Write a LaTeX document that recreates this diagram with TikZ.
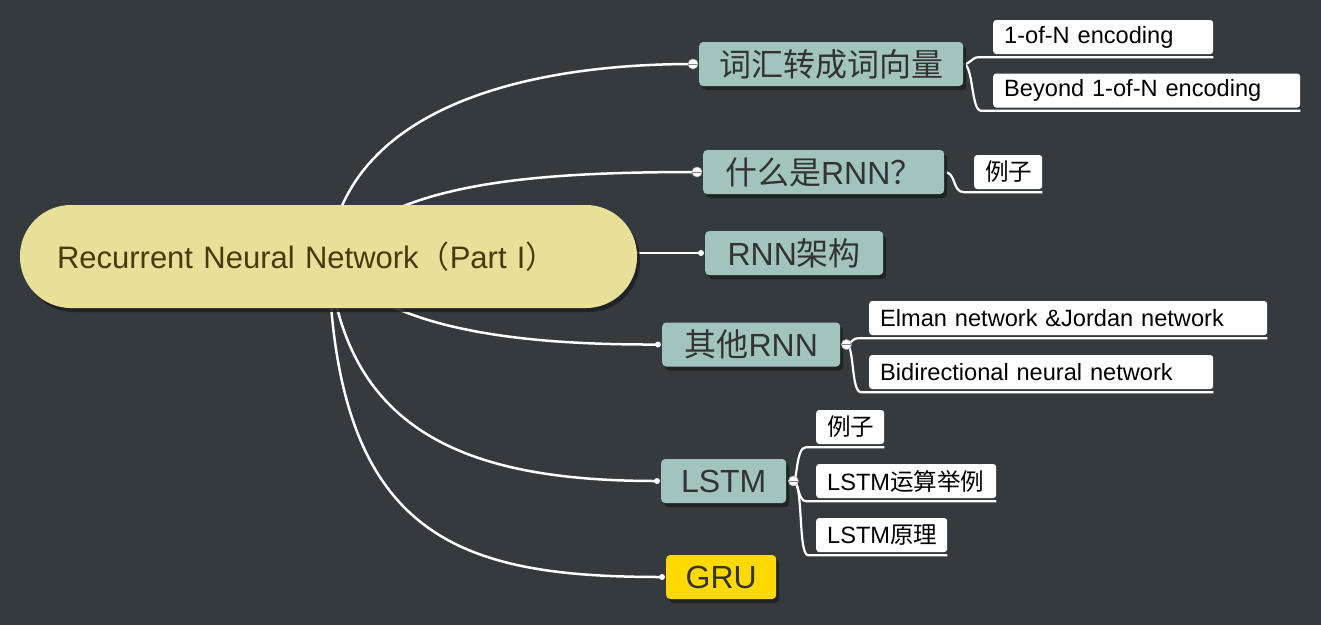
\documentclass[tikz,border=0pt]{standalone}
\usepackage{fontspec}
\setmainfont{Liberation Sans}
\newfontfamily\cjk{Noto Sans CJK SC}
\usetikzlibrary{calc,shadows,backgrounds}
\definecolor{bgc}{RGB}{53,58,62}
\definecolor{tealc}{RGB}{162,196,191}
\definecolor{rootc}{RGB}{232,223,153}
\definecolor{roottext}{RGB}{72,58,12}
\definecolor{gruc}{RGB}{255,217,0}
\definecolor{maintext}{RGB}{51,51,51}
\definecolor{shadowc}{RGB}{30,33,36}
\begin{document}
\begin{tikzpicture}[x=1pt,y=-1pt,
  edge/.style={draw=white,line width=2.5pt},
  subedge/.style={draw=white,line width=2.2pt},
  shad/.style={drop shadow={shadow xshift=3pt,shadow yshift=-4pt,fill=shadowc,opacity=0.9}},
  mainbox/.style={rectangle,rounded corners=4pt,fill=tealc,text=maintext,
    font=\fontsize{32}{38}\selectfont,minimum height=44pt,inner sep=0pt,anchor=west,shad},
  leaf/.style={rectangle,rounded corners=3pt,fill=white,text=black,
    font=\fontsize{23.6}{28}\selectfont,minimum height=34pt,inner ysep=0pt,inner xsep=11pt,
    anchor=west,text width=#1,align=left},
  collapse/.style={circle,fill=white,draw=gray!60,line width=0.6pt,minimum size=10pt,inner sep=0pt,
    path picture={\draw[gray,line width=1pt] (path picture bounding box.west) -- (path picture bounding box.east);}},
  dotc/.style={circle,fill=white,minimum size=6pt,inner sep=0pt}
]
\useasboundingbox (0,0) rectangle (1321,625);

% root
\node[rectangle,rounded corners=51pt,fill=rootc,text=roottext,minimum height=103pt,
  text width=543pt,inner xsep=37pt,align=left,font=\fontsize{31}{37}\selectfont,shad]
  (root) at (328.5,256.5) {Recurrent Neural Network{\cjk （}Part I{\cjk ）}};

% main nodes
\node[mainbox,minimum width=264pt] (n1) at (699,64) {\cjk 词汇转成词向量};
\node[mainbox,minimum width=241pt] (n2) at (703,172) {{\cjk 什么是}RNN{\cjk ？}};
\node[mainbox,minimum width=178pt] (n3) at (705,253) {RNN{\cjk 架构}};
\node[mainbox,minimum width=178pt] (n4) at (662,344.5) {{\cjk 其他}RNN};
\node[mainbox,minimum width=125pt] (n5) at (661,481) {LSTM};
\node[mainbox,minimum width=110pt,fill=gruc] (n6) at (666,577) {GRU};

% leaves
\node[leaf=198pt] (c11) at (993,37) {1-of-N encoding};
\node[leaf=285pt] (c12) at (993,90.5) {Beyond 1-of-N encoding};
\node[leaf=46pt] (c21) at (974,172) {\cjk 例子};
\node[leaf=376pt] (c41) at (869,318) {Elman network \&Jordan network};
\node[leaf=322pt] (c42) at (869,372) {Bidirectional neural network};
\node[leaf=46pt] (c51) at (816,427) {\cjk 例子};
\node[leaf=158pt] (c52) at (816,481) {LSTM{\cjk 运算举例}};
\node[leaf=109pt] (c53) at (816,535) {LSTM{\cjk 原理}};

% connection markers
\node[collapse] (k1) at ($(n1.west)+(-6,0)$) {};
\node[collapse] (k2) at ($(n2.west)+(-6,0)$) {};
\node[dotc] (k3) at ($(n3.west)+(-4,0)$) {};
\node[dotc] (k4) at ($(n4.west)+(-4,0)$) {};
\node[dotc] (k5) at ($(n5.west)+(-4,0)$) {};
\node[dotc] (k6) at ($(n6.west)+(-4,0)$) {};
\node[collapse] (r4) at ($(n4.east)+(6,0)$) {};
\node[collapse] (r5) at ($(n5.east)+(7,0)$) {};

\begin{scope}[on background layer]
  \fill[bgc] (0,0) rectangle (1321,625);
  \draw[edge] (root.center) .. controls (345,110) and (520,64) .. (k1.center);
  \draw[edge] (root.center) .. controls (390,185) and (520,172) .. (k2.center);
  \draw[edge] (k3.center -| root.east) -- (k3.center);
  \draw[edge] (root.center) .. controls (378,330) and (520,345) .. (k4.center);
  \draw[edge] (root.center) .. controls (345,440) and (480,481) .. (k5.center);
  \draw[edge] (root.center) .. controls (335,540) and (460,577) .. (k6.center);
  % sub connectors
  \draw[subedge] (n1.east) .. controls +(8,0) and +(-8,0) .. ($(c11.south west)+(-14,3)$) -- ($(c11.south east)+(0,3)$);
  \draw[subedge] (n1.east) .. controls +(10,0) and +(-10,0) .. ($(c12.south west)+(-12,3)$) -- ($(c12.south east)+(0,3)$);
  \draw[subedge] (n2.east) .. controls +(12,0) and +(-12,0) .. ($(c21.south west)+(-10,3)$) -- ($(c21.south east)+(0,3)$);
  \draw[subedge] (r4.center) .. controls +(5,0) and +(-8,0) .. ($(c41.south west)+(-10,3)$) -- ($(c41.south east)+(0,3)$);
  \draw[subedge] (r4.center) .. controls +(8,0) and +(-10,0) .. ($(c42.south west)+(-8,3)$) -- ($(c42.south east)+(0,3)$);
  \draw[subedge] (r5.center) .. controls +(4,0) and +(-10,0) .. ($(c51.south west)+(-10,3)$) -- ($(c51.south east)+(0,3)$);
  \draw[subedge] (r5.center) .. controls +(5,0) and +(-8,0) .. ($(c52.south west)+(-10,3)$) -- ($(c52.south east)+(0,3)$);
  \draw[subedge] (r5.center) .. controls +(10,0) and +(-10,0) .. ($(c53.south west)+(-8,3)$) -- ($(c53.south east)+(0,3)$);
\end{scope}
\end{tikzpicture}
\end{document}
